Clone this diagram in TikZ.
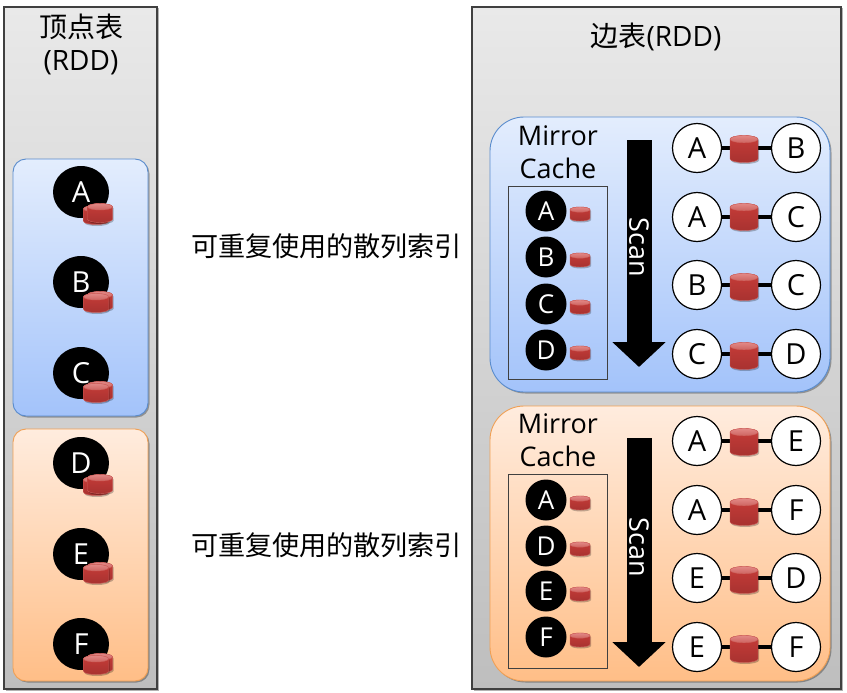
\documentclass[tikz,border=0pt]{standalone}
\usepackage{fontspec}
\setmainfont{Open Sans}
\newfontfamily\cjkfont{Noto Sans CJK SC}
\usepackage{tikz}
\usetikzlibrary{shapes.geometric,shadows,arrows.meta}
\definecolor{rddtop}{RGB}{233, 233, 233}
\definecolor{rddmid}{RGB}{214, 214, 214}
\definecolor{rddbottom}{RGB}{190, 190, 190}
\definecolor{bluetop}{RGB}{227, 237, 253}
\definecolor{bluebottom}{RGB}{163, 195, 250}
\definecolor{blueedge}{RGB}{90, 140, 205}
\definecolor{orangetop}{RGB}{255, 236, 222}
\definecolor{orangebottom}{RGB}{255, 190, 135}
\definecolor{orangeedge}{RGB}{240, 160, 85}
\definecolor{diskbodytop}{RGB}{198, 60, 56}
\definecolor{diskbodybottom}{RGB}{168, 50, 48}
\definecolor{disktoplight}{RGB}{226, 136, 134}
\definecolor{disktopdark}{RGB}{205, 100, 96}
\definecolor{diskedge}{RGB}{205, 95, 90}
\tikzset{
	softshadow/.style={drop shadow={shadow xshift=1.5pt,shadow yshift=-1.5pt,opacity=0.3,fill=black}},
	diskshadow/.style={drop shadow={shadow xshift=1pt,shadow yshift=-1.5pt,opacity=0.25,fill=black}},
	rddpanel/.style={draw=black!75,line width=1.4pt,top color=rddtop,middle color=rddmid,bottom color=rddbottom,softshadow},
	bluepart/.style={draw=blueedge,line width=0.9pt,top color=bluetop,bottom color=bluebottom,softshadow},
	orangepart/.style={draw=orangeedge,line width=0.9pt,top color=orangetop,bottom color=orangebottom,softshadow},
	cachebox/.style={draw=black!75,line width=1pt},
	title/.style={font=\fontsize{28}{33}\selectfont,align=center,inner sep=0pt},
	mirrortitle/.style={font=\fontsize{27}{33}\selectfont,align=center,inner sep=0pt},
	hashtext/.style={font=\cjkfont\fontsize{27.1}{32}\selectfont,inner sep=0pt},
	vertexblob/.style={ellipse,fill=black,text=white,minimum width=56pt,minimum height=52pt,inner sep=0pt,font=\fontsize{29}{29}\selectfont},
	cachevertex/.style={circle,fill=black,text=white,minimum size=41pt,inner sep=0pt,font=\fontsize{26}{26}\selectfont},
	edgevertex/.style={circle,draw=black,line width=1.2pt,fill=white,minimum size=49pt,inner sep=0pt,font=\fontsize{29}{29}\selectfont},
	link/.style={draw=black,line width=3.5pt},
	scanarrow/.style={draw=black,line width=25pt,-{Triangle[width=52pt,length=25pt]}},
	scanlabel/.style={text=white,rotate=-90,inner sep=0pt,font=\fontsize{27}{27}\selectfont},
	% width and height of the drum, in pt
	pics/disk/.style n args={2}{code={
		\pgfmathsetmacro\diskrx{#1/2}
		\pgfmathsetmacro\diskry{#1*0.13}
		\pgfmathsetmacro\diskhh{#2/2-\diskry}
		\shadedraw [draw=diskedge,line width=0.4pt,top color=diskbodytop,bottom color=diskbodybottom,diskshadow]
			(-\diskrx,-\diskhh) -- (-\diskrx,\diskhh)
			arc[start angle=180,end angle=360,x radius=\diskrx pt,y radius=\diskry pt]
			-- (\diskrx,-\diskhh)
			arc[start angle=0,end angle=180,x radius=\diskrx pt,y radius=\diskry pt] -- cycle;
		\shadedraw [draw=diskedge,line width=0.4pt,top color=disktoplight,bottom color=disktopdark]
			(0,-\diskhh) circle[x radius=\diskrx pt,y radius=\diskry pt];
	}}
}
\begin{document}
\begin{tikzpicture}[x=1pt,y=-1pt]
	\useasboundingbox (0,0) rectangle (847,693);

	% vertex table
	\node [rddpanel,rectangle,minimum width=153pt,minimum height=682pt] (vertexpanel) at (80.5,348) {};
	\node [title] (vertextitle) at (81,44.5) {{\cjkfont 顶点表}\\(RDD)};
	\node [bluepart,rounded corners=13pt,minimum width=135pt,minimum height=257pt] (vertexblue) at (80.5,287.5) {};
	\node [orangepart,rounded corners=13pt,minimum width=135pt,minimum height=252pt] (vertexorange) at (80.5,555) {};

	\node [vertexblob] (va) at (81,192) {A};
	\pic at (96,215) {disk={25}{19}};
	\pic at (100,213) {disk={25}{19}};
	\node [vertexblob] (vb) at (81,282) {B};
	\pic at (100,301) {disk={25}{19}};
	\pic at (96,303) {disk={25}{19}};
	\node [vertexblob] (vc) at (81,373) {C};
	\pic at (100,391) {disk={25}{19}};
	\pic at (96,393) {disk={25}{19}};
	\node [vertexblob] (vd) at (81,463) {D};
	\pic at (96,486) {disk={25}{19}};
	\pic at (100,484) {disk={25}{19}};
	\node [vertexblob] (ve) at (81,554) {E};
	\pic at (100,572) {disk={25}{19}};
	\pic at (96,574) {disk={25}{19}};
	\node [vertexblob] (vf) at (81,644) {F};
	\pic at (100,663) {disk={25}{19}};
	\pic at (96,665) {disk={25}{19}};

	% routing labels
	\node [hashtext] (hashblue) at (326.5,246) {可重复使用的散列索引};
	\node [hashtext] (hashorange) at (326.5,545) {可重复使用的散列索引};

	% edge table
	\node [rddpanel,rectangle,minimum width=369pt,minimum height=682pt] (edgepanel) at (656.5,348) {};
	\node [title] (edgetitle) at (656,37) {{\cjkfont 边表}(RDD)};

	% first edge partition
	\node [bluepart,rounded corners=34pt,minimum width=340pt,minimum height=275pt] (edgeblue) at (660,254.5) {};
	\node [mirrortitle] (mirrorblue) at (558,152.5) {Mirror\\Cache};
	\node [cachebox,minimum width=99pt,minimum height=193pt] (cacheblue) at (557.5,282.5) {};
	\node [cachevertex] (ca) at (546,211) {A};
	\pic at (580,214) {disk={20}{14}};
	\node [cachevertex] (cb) at (546,257) {B};
	\pic at (580,260) {disk={20}{14}};
	\node [cachevertex] (cc) at (546,304) {C};
	\pic at (580,307) {disk={20}{14}};
	\node [cachevertex] (cd) at (546,350) {D};
	\pic at (580,353) {disk={20}{14}};
	\coordinate (scanstart) at (639,140);
	\coordinate (scanend) at (639,367);
	\draw [scanarrow] (scanstart) -- (scanend);
	\node [scanlabel] (scanblue) at (639,247.5) {Scan};

	\node [edgevertex] (e1a) at (697,148) {A};
	\node [edgevertex] (e1b) at (796,148) {B};
	\draw [link] (e1a) -- (e1b);
	\pic at (744,149) {disk={28}{27}};
	\node [edgevertex] (e2a) at (697,217) {A};
	\node [edgevertex] (e2b) at (796,217) {C};
	\draw [link] (e2a) -- (e2b);
	\pic at (744,217) {disk={28}{27}};
	\node [edgevertex] (e3a) at (697,285) {B};
	\node [edgevertex] (e3b) at (796,285) {C};
	\draw [link] (e3a) -- (e3b);
	\pic at (744,287) {disk={28}{27}};
	\node [edgevertex] (e4a) at (697,354) {C};
	\node [edgevertex] (e4b) at (796,354) {D};
	\draw [link] (e4a) -- (e4b);
	\pic at (744,356) {disk={28}{27}};

	% second edge partition
	\node [orangepart,rounded corners=34pt,minimum width=340pt,minimum height=275pt] (edgeorange) at (660,543.5) {};
	\node [mirrortitle] (mirrororange) at (558,440.5) {Mirror\\Cache};
	\node [cachebox,minimum width=99pt,minimum height=194pt] (cacheorange) at (557.5,571) {};
	\node [cachevertex] (da) at (546,500) {A};
	\pic at (580,503) {disk={20}{14}};
	\node [cachevertex] (dd) at (546,546) {D};
	\pic at (580,549) {disk={20}{14}};
	\node [cachevertex] (de) at (546,591) {E};
	\pic at (580,594) {disk={20}{14}};
	\node [cachevertex] (df) at (546,637) {F};
	\pic at (580,640) {disk={20}{14}};
	\coordinate (scanstartb) at (639,438);
	\coordinate (scanendb) at (639,667);
	\draw [scanarrow] (scanstartb) -- (scanendb);
	\node [scanlabel] (scanorange) at (639,547) {Scan};

	\node [edgevertex] (f1a) at (697,441) {A};
	\node [edgevertex] (f1b) at (796,441) {E};
	\draw [link] (f1a) -- (f1b);
	\pic at (744,442) {disk={28}{27}};
	\node [edgevertex] (f2a) at (697,510) {A};
	\node [edgevertex] (f2b) at (796,510) {F};
	\draw [link] (f2a) -- (f2b);
	\pic at (744,512) {disk={28}{27}};
	\node [edgevertex] (f3a) at (697,578) {E};
	\node [edgevertex] (f3b) at (796,578) {D};
	\draw [link] (f3a) -- (f3b);
	\pic at (744,580) {disk={28}{27}};
	\node [edgevertex] (f4a) at (697,647) {E};
	\node [edgevertex] (f4b) at (796,647) {F};
	\draw [link] (f4a) -- (f4b);
	\pic at (744,649) {disk={28}{27}};
\end{tikzpicture}
\end{document}
